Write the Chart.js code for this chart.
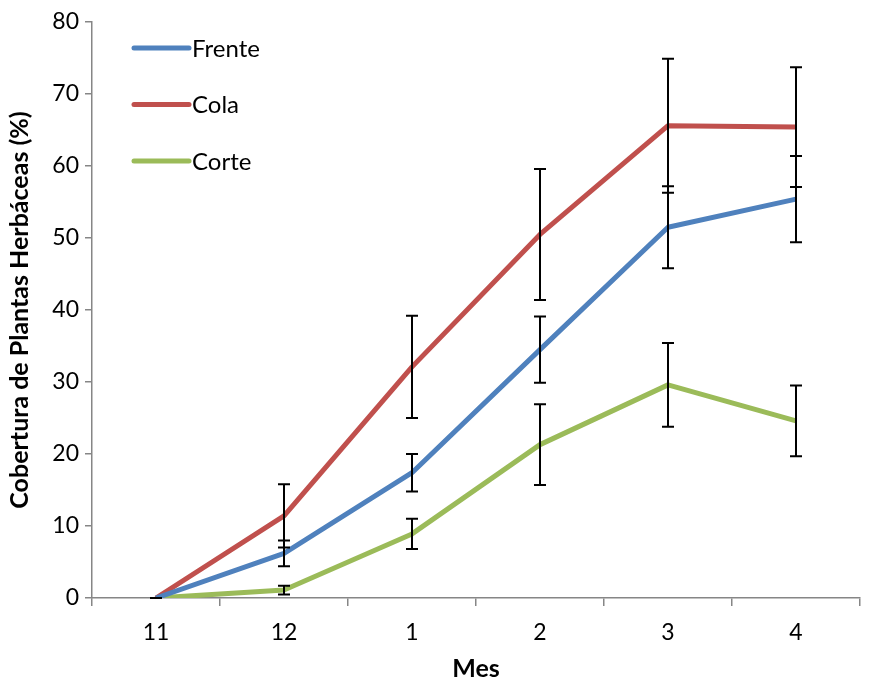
<!DOCTYPE html>
<html>
<head>
<meta charset="utf-8">
<script src="https://cdn.jsdelivr.net/npm/chart.js@4"></script>
<style>
  html, body { margin: 0; padding: 0; background: #fff; }
</style>
</head>
<body>
<canvas id="chart" width="894" height="684"></canvas>
<script>
const months = ['11', '12', '1', '2', '3', '4'];

const frente = [0, 6.2, 17.4, 34.5, 51.5, 55.4];
const frenteErr = [0, 1.8, 2.6, 4.6, 5.7, 6.0];

const cola = [0, 11.4, 32.1, 50.5, 65.6, 65.4];
const colaErr = [0, 4.4, 7.1, 9.1, 9.3, 8.3];

const corte = [0, 1.1, 8.9, 21.3, 29.6, 24.6];
const corteErr = [0, 0.6, 2.1, 5.6, 5.8, 4.9];

const yTicks = [0, 10, 20, 30, 40, 50, 60, 70, 80];

const axisColor = '#868686';
const font = 'Lato';

// error bars drawn on top of the lines
const errorBars = {
    id: 'errorBars',
    afterDatasetsDraw(chart) {
        const ctx = chart.ctx;
        const x = chart.scales.x;
        const y = chart.scales.y;
        ctx.save();
        ctx.strokeStyle = '#000';
        ctx.lineWidth = 2;
        chart.data.datasets.forEach(ds => {
            ds.data.forEach((v, i) => {
                const e = ds.errors[i];
                const px = x.getPixelForValue(i);
                const top = y.getPixelForValue(v + e);
                const bot = y.getPixelForValue(v - e);
                ctx.beginPath();
                ctx.moveTo(px, top);
                ctx.lineTo(px, bot);
                ctx.moveTo(px - 6, top);
                ctx.lineTo(px + 6, top);
                ctx.moveTo(px - 6, bot);
                ctx.lineTo(px + 6, bot);
                ctx.stroke();
            });
        });
        ctx.restore();
    }
};

// legend inside the plot, top left
const innerLegend = {
    id: 'innerLegend',
    afterDraw(chart) {
        const ctx = chart.ctx;
        const left = chart.chartArea.left + 42;
        ctx.save();
        ctx.font = '24px ' + font;
        ctx.textBaseline = 'middle';
        ctx.lineCap = 'round';
        chart.data.datasets.forEach((ds, i) => {
            const yy = chart.chartArea.top + 26 + i * 56.5;
            ctx.strokeStyle = ds.borderColor;
            ctx.lineWidth = 5;
            ctx.beginPath();
            ctx.moveTo(left, yy);
            ctx.lineTo(left + 55, yy);
            ctx.stroke();
            ctx.fillStyle = '#000';
            ctx.fillText(ds.label, left + 58, yy + 1);
        });
        ctx.restore();
    }
};

const ctx = document.getElementById('chart').getContext('2d');
const myChart = new Chart(ctx, {
    type: 'line',
    data: {
        labels: months,
        datasets: [
            { label: 'Frente', data: frente, errors: frenteErr, borderColor: '#4F81BD' },
            { label: 'Cola', data: cola, errors: colaErr, borderColor: '#C0504D' },
            { label: 'Corte', data: corte, errors: corteErr, borderColor: '#9BBB59' }
        ].map(d => Object.assign(d, { borderWidth: 5, pointRadius: 0, tension: 0, fill: false, borderJoinStyle: 'round' }))
    },
    options: {
        responsive: false,
        animation: false,
        layout: { padding: { top: 22, right: 34, left: 0, bottom: 0 } },
        plugins: {
            legend: { display: false },
            tooltip: { enabled: false }
        },
        scales: {
            x: {
                offset: true,
                grid: { display: true, drawOnChartArea: false, offset: true, tickLength: 8, color: axisColor, lineWidth: 1.5 },
                border: { color: axisColor, width: 1.5 },
                ticks: { color: '#000', font: { family: font, size: 23 }, padding: 13, maxRotation: 0 },
                title: { display: true, text: 'Mes', color: '#000', font: { family: font, size: 25, weight: 'bold' }, padding: { top: 0, bottom: 0 } },
                afterFit: s => { s.height = 86; }
            },
            y: {
                min: 0,
                max: 80,
                afterBuildTicks: s => { s.ticks = yTicks.map(v => ({ value: v })); },
                grid: { display: true, drawOnChartArea: false, tickLength: 7, color: axisColor, lineWidth: 1.5 },
                border: { color: axisColor, width: 1.5 },
                ticks: { color: '#000', font: { family: font, size: 23 }, padding: 6 },
                title: { display: true, text: 'Cobertura de Plantas Herbáceas (%)', color: '#000', font: { family: font, size: 25, weight: 'bold' }, padding: { top: 5, bottom: 0 } },
                afterFit: s => { s.width = 92; }
            }
        }
    },
    plugins: [errorBars, innerLegend]
});
</script>
</body>
</html>
